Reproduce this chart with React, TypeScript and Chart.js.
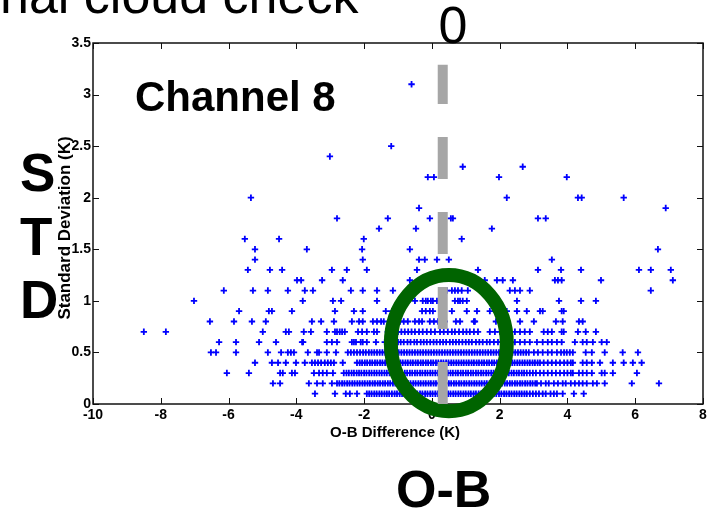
import React, { useEffect, useRef } from "react";
import { Chart, registerables } from "chart.js";

Chart.register(...registerables);

// Standard deviation levels (K) at which the observations are binned
const stdLevels = [0.1, 0.2, 0.3, 0.4, 0.5, 0.6, 0.7, 0.8, 0.9, 1.0, 1.1, 1.2, 1.3, 1.4, 1.5, 1.6, 1.7, 1.8, 1.9, 2.0, 2.2, 2.3, 2.4, 2.5, 3.1];

// O-B differences (K) observed at each standard deviation level
const obAt01 = [-3.45, -2.86, -2.54, -2.42, -2.21,
  -1.92, -1.85, -1.78, -1.7, -1.63, -1.55, -1.48, -1.4, -1.33, -1.26, -1.18, -1.1, -1.03, -0.95, -0.88, -0.81, -0.73, -0.66, -0.58, -0.5, -0.43, -0.35, -0.28, -0.2, -0.13, -0.05, 0.02, 0.1, 0.17, 0.25, 0.32, 0.4, 0.48, 0.55, 0.63, 0.7, 0.78, 0.85, 0.93, 1.0, 1.08, 1.15, 1.23, 1.3, 1.38, 1.45, 1.53, 1.6, 1.68, 1.75, 1.83, 1.9, 1.98, 2.05, 2.13, 2.2, 2.28, 2.35, 2.43, 2.5, 2.58, 2.65, 2.73, 2.8, 2.89,
  2.98, 3.07, 3.16, 3.27, 3.36, 3.5, 3.6, 3.69, 3.86, 4.19, 4.48];
const obAt02 = [-4.69, -4.48, -3.63, -3.39, -3.22, -2.95,
  -2.8, -2.73, -2.65, -2.58, -2.5, -2.43, -2.35, -2.28, -2.2, -2.13, -2.05, -1.98, -1.9, -1.83, -1.75, -1.68, -1.6, -1.53, -1.45, -1.38, -1.3, -1.23, -1.15, -1.08, -1.0, -0.93, -0.85, -0.78, -0.7, -0.63, -0.55, -0.48, -0.4, -0.33, -0.25, -0.18, -0.1, -0.03, 0.05, 0.12, 0.2, 0.27, 0.35, 0.42, 0.5, 0.57, 0.65, 0.72, 0.8, 0.87, 0.95, 1.02, 1.1, 1.17, 1.25, 1.32, 1.4, 1.47, 1.55, 1.62, 1.7, 1.77, 1.85, 1.92, 2.0, 2.07, 2.15, 2.22, 2.3, 2.37, 2.45, 2.52, 2.6, 2.67, 2.75, 2.82, 2.9, 2.97, 3.05, 3.1,
  3.22, 3.36, 3.45, 3.6, 3.72, 3.86, 3.95, 4.1, 4.22, 4.34, 4.45, 4.57, 4.75, 4.87, 5.1, 5.9, 6.7];
const obAt03 = [-6.05, -5.4, -4.48, -4.4, -4.13, -4.04, -3.48, -3.33, -3.22, -3.1, -2.92,
  -2.6, -2.52, -2.45, -2.37, -2.3, -2.22, -2.15, -2.08, -2.0, -1.93, -1.85, -1.78, -1.7, -1.63, -1.55, -1.48, -1.4, -1.33, -1.25, -1.18, -1.1, -1.03, -0.95, -0.88, -0.8, -0.73, -0.65, -0.58, -0.5, -0.43, -0.35, -0.28, -0.2, -0.13, -0.05, 0.02, 0.1, 0.17, 0.25, 0.32, 0.4, 0.47, 0.55, 0.62, 0.7, 0.77, 0.85, 0.92, 1.0, 1.07, 1.15, 1.22, 1.3, 1.37, 1.45, 1.52, 1.6, 1.67, 1.75, 1.82, 1.9, 1.97, 2.05, 2.12, 2.2, 2.27, 2.35, 2.42, 2.5, 2.57, 2.65, 2.72, 2.8, 2.89,
  2.98, 3.07, 3.19, 3.3, 3.42, 3.54, 3.66, 3.78, 3.9, 4.0, 4.1, 4.16, 4.34, 4.45, 4.57, 4.72, 5.01, 5.1, 5.34, 6.05];
const obAt04 = [-5.22, -4.72, -4.54, -4.31, -4.01, -3.75, -3.54, -3.45, -3.36, -3.27, -3.16, -3.07, -2.98, -2.89, -2.63,
  -2.21, -2.13, -2.06, -1.98, -1.91, -1.83, -1.76, -1.68, -1.61, -1.53, -1.46, -1.38, -1.31, -1.23, -1.16, -1.08, -1.01, -0.93, -0.86, -0.78, -0.71, -0.63, -0.56, -0.48, -0.41, -0.33, -0.26, -0.18, -0.11, -0.03, 0.04, 0.12, 0.19, 0.27, 0.34, 0.42, 0.49, 0.57, 0.64, 0.72, 0.79, 0.87, 0.94, 1.02, 1.09, 1.17, 1.24, 1.32, 1.39, 1.47, 1.54, 1.62, 1.69, 1.77, 1.84, 1.92, 1.99, 2.07, 2.14, 2.22, 2.29, 2.37, 2.44, 2.52, 2.59, 2.67, 2.74, 2.82, 2.89, 2.97, 3.04, 3.12, 3.19,
  3.3, 3.42, 3.54, 3.66, 3.78, 3.9, 4.0, 4.1, 4.16, 4.45, 4.57, 4.72, 4.96, 5.34, 5.66, 5.93, 6.19];
const obAt05 = [-6.52, -6.37, -5.78, -4.84, -4.45, -4.25, -4.16, -4.07, -3.66, -3.39, -3.33, -3.1, -2.83,
  -2.48, -2.39, -2.3, -2.21, -2.12, -2.03, -1.95, -1.86, -1.78, -1.7, -1.62, -1.54, -1.46, -1.38, -1.3, -1.22, -1.14, -1.06, -0.98, -0.9, -0.82, -0.74, -0.66, -0.58, -0.5, -0.42, -0.34, -0.26, -0.18, -0.1, -0.02, 0.06, 0.14, 0.22, 0.3, 0.38, 0.46, 0.54, 0.62, 0.7, 0.78, 0.86, 0.94, 1.02, 1.1, 1.18, 1.26, 1.34, 1.42, 1.5, 1.58, 1.66, 1.74, 1.82, 1.9, 1.98, 2.06, 2.14, 2.22, 2.3, 2.38, 2.46, 2.54, 2.62, 2.7, 2.78, 2.86,
  3.01, 3.13, 3.27, 3.42, 3.54, 3.69, 3.81, 3.9, 3.98, 4.07, 4.16, 4.54, 4.72, 5.1, 5.63, 6.08];
const obAt06 = [-6.28, -5.78, -5.1, -4.6, -3.83, -3.8, -3.1, -2.95, -2.8, -2.36, -2.3, -2.24, -2.1, -2.04, -1.92, -1.65,
  -1.39, -1.3, -1.2, -1.11, -1.0, -0.92, -0.83, -0.72, -0.63, -0.52, -0.44, -0.33, -0.24, -0.15, -0.05, 0.05, 0.14, 0.24, 0.33, 0.42, 0.53, 0.62, 0.71, 0.8, 0.9, 1.0, 1.09, 1.18, 1.3, 1.4, 1.5, 1.62, 1.71, 1.83, 1.95, 2.06, 2.18, 2.3, 2.45, 2.6,
  2.74, 2.89, 3.1, 3.27, 3.42, 3.54, 3.69, 3.83, 4.22, 4.45, 4.57, 4.75, 5.01, 5.16];
const obAt07 = [-8.5, -7.85, -4.99, -4.31, -4.22, -3.78, -3.57, -3.1, -2.86, -2.8, -2.72, -2.65, -2.57, -2.18, -2.06, -1.92, -1.71, -1.62, -1.3, -1.24, -1.12, -1.0, -0.9, -0.8, -0.7, -0.6, -0.5, -0.38, -0.27, -0.15, -0.03, 0.09, 0.24, 0.35, 0.47, 0.59, 0.68, 0.8, 0.92, 1.02, 1.12, 1.24, 1.36, 1.71, 1.86, 2.01, 2.45, 2.6, 2.74, 2.89, 3.3, 3.42, 3.54, 3.83, 3.89, 4.31, 4.54, 4.84];
const obAt08 = [-6.55, -5.84, -5.31, -4.9, -3.54, -3.27, -2.89, -2.36, -2.15, -2.04, -1.74, -1.62, -1.5, -1.42, -1.18, -0.94, -0.83, -0.71, -0.5, -0.38, -0.29, -0.06, 0.06, 0.18, 0.29, 0.38, 0.71, 0.83, 1.24, 1.27, 1.89, 2.6, 3.01, 3.66, 3.86, 4.34, 4.45];
const obAt09 = [-5.69, -4.81, -4.72, -4.13, -2.86, -2.3, -2.04, -1.36, -1.18, -0.29, -0.18, -0.06, 0.03, 0.59, 1.03, 1.33, 1.71, 1.92, 2.06, 2.21, 2.51, 2.8, 3.19, 3.27, 3.83, 3.89];
const obAt10 = [-7.02, -3.81, -2.92, -2.68, -1.62, -0.5, -0.27, -0.18, -0.12, -0.03, 0.03, 0.15, 0.68, 0.77, 0.83, 0.91, 1.03, 2.51, 3.75, 4.4, 4.84];
const obAt11 = [-6.14, -5.28, -4.84, -4.25, -3.75, -3.51, -2.39, -2.04, -1.62, -1.15, 0.44, 0.59, 0.68, 0.77, 0.88, 1.06, 2.3, 2.45, 2.6, 2.89, 6.46];
const obAt12 = [-3.98, -3.86, -3.24, -2.63, -0.65, 1.56, 1.92, 2.09, 2.39, 3.63, 3.72, 3.83, 4.99, 7.11];
const obAt13 = [-5.43, -4.78, -4.42, -2.95, -2.51, -1.92, -0.44, 1.36, 3.13, 3.81, 4.4, 6.11, 6.46, 7.05];
const obAt14 = [-5.22, -2.04, -0.38, -0.21, 0.15, 0.5, 3.54];
const obAt15 = [-5.22, -3.69, -2.06, -0.65, 6.67];
const obAt16 = [-5.52, -4.51, -2.01, 0.88];
const obAt17 = [-1.56, -0.47, 1.77];
const obAt18 = [-2.8, -1.3, -0.06, 0.56, 0.62, 3.13, 3.36];
const obAt19 = [-0.38, 6.9];
const obAt20 = [-5.34, 2.21, 4.31, 4.42, 5.66];
const obAt22 = [-0.12, 0.06, 1.98, 3.98];
const obAt23 = [0.91, 2.68];
const obAt24 = [-3.01];
const obAt25 = [-1.2];
const obAt31 = [-0.6];

const obRows = [obAt01, obAt02, obAt03, obAt04, obAt05, obAt06, obAt07, obAt08, obAt09, obAt10, obAt11, obAt12, obAt13,
  obAt14, obAt15, obAt16, obAt17, obAt18, obAt19, obAt20, obAt22, obAt23, obAt24, obAt25, obAt31];

// Axis ranges and tick steps
const xRange = [-10, 8];
const xStep = 2;
const yRange = [0, 3.5];
const yStep = 0.5;

// Dashed reference marker (O-B, from STD to STD) and highlight ring (data units)
const markerOB = 0.32;
const markerSpan = [0, 3.29];
const ringCenter = { x: 0.5, y: 0.59 };
const ringRadius = { x: 1.71, y: 0.66 };

// Text
const slideTitle = "nal cloud check";
const zeroLabel = "0";
const channelLabel = "Channel 8";
const sideLetters = ["S", "T", "D"];
const bottomLabel = "O-B";
const xTitle = "O-B Difference (K)";
const yTitle = "Standard Deviation (K)";

const SANS = "'Liberation Sans', Arial, Helvetica, sans-serif";
const NARROW = "'Liberation Sans Narrow', 'Liberation Sans', Arial, sans-serif";
const TICK_LEN = 6;

const slidePlugin = {
  id: "slideOverlay",
  beforeDatasetsDraw(chart: any) {
    const { ctx, chartArea: a, scales } = chart;
    const xs = scales.x;
    const ys = scales.y;
    ctx.save();
    ctx.strokeStyle = "#111";
    ctx.lineWidth = 1;
    ctx.beginPath();
    for (const t of xs.ticks) {
      const px = Math.round(xs.getPixelForValue(t.value)) + 0.5;
      ctx.moveTo(px, a.bottom);
      ctx.lineTo(px, a.bottom - TICK_LEN);
      ctx.moveTo(px, a.top);
      ctx.lineTo(px, a.top + TICK_LEN);
    }
    for (const t of ys.ticks) {
      const py = Math.round(ys.getPixelForValue(t.value)) + 0.5;
      ctx.moveTo(a.left, py);
      ctx.lineTo(a.left + TICK_LEN, py);
      ctx.moveTo(a.right, py);
      ctx.lineTo(a.right - TICK_LEN, py);
    }
    ctx.stroke();
    ctx.lineWidth = 1.5;
    ctx.strokeRect(a.left, a.top, a.right - a.left, a.bottom - a.top);
    ctx.restore();
  },
  beforeDatasetDraw(chart: any, args: any) {
    if (args.index !== 0) return;
    const { ctx, scales } = chart;
    const xs = scales.x;
    const ys = scales.y;
    const cx = xs.getPixelForValue(ringCenter.x);
    const cy = ys.getPixelForValue(ringCenter.y);
    const rx = Math.abs(xs.getPixelForValue(ringCenter.x + ringRadius.x) - cx);
    const ry = Math.abs(ys.getPixelForValue(ringCenter.y + ringRadius.y) - cy);
    ctx.save();
    ctx.strokeStyle = "#006400";
    ctx.lineWidth = 14;
    ctx.beginPath();
    ctx.ellipse(cx, cy, rx, ry, 0, 0, Math.PI * 2);
    ctx.stroke();
    ctx.restore();
  },
  afterDraw(chart: any) {
    const { ctx } = chart;
    ctx.save();
    ctx.fillStyle = "#000";
    ctx.textBaseline = "alphabetic";

    ctx.textAlign = "left";
    ctx.font = `52px ${SANS}`;
    ctx.fillText(slideTitle, 0, 13);

    ctx.textAlign = "center";
    ctx.fillText(zeroLabel, 453, 43);

    ctx.textAlign = "left";
    ctx.font = `bold 42px ${SANS}`;
    ctx.fillText(channelLabel, 135, 111);

    ctx.font = `bold 53px ${SANS}`;
    const baselines = [191, 255, 318];
    sideLetters.forEach((ch, i) => ctx.fillText(ch, 20, baselines[i]));

    ctx.font = `bold 52px ${SANS}`;
    ctx.fillText(bottomLabel, 396, 507);

    ctx.textAlign = "center";
    ctx.font = `bold 15px ${SANS}`;
    ctx.fillText(xTitle, 395, 437);

    ctx.translate(70, 228);
    ctx.rotate(-Math.PI / 2);
    ctx.font = `bold 17px ${SANS}`;
    ctx.fillText(yTitle, 0, 0);
    ctx.restore();
  },
};

const tickText = (v: number | string) => String(Number(v));

export default function App() {
  const canvasRef = useRef<HTMLCanvasElement | null>(null);

  useEffect(() => {
    document.body.style.margin = "0";
    const canvas = canvasRef.current;
    if (!canvas) return;

    const points = stdLevels.flatMap((s, i) => obRows[i].map((ob) => ({ x: ob, y: s })));

    const chart = new Chart(canvas, {
      type: "scatter",
      data: {
        datasets: [
          {
            type: "line",
            label: "O-B = 0",
            data: [
              { x: markerOB, y: markerSpan[0] },
              { x: markerOB, y: markerSpan[1] },
            ],
            borderColor: "#a6a6a6",
            borderWidth: 10,
            borderDash: [42, 33],
            borderCapStyle: "butt",
            pointRadius: 0,
            fill: false,
          } as any,
          {
            label: "Channel 8",
            data: points,
            pointStyle: "cross",
            pointRadius: 3.2,
            borderWidth: 1.8,
            borderColor: "#0000ff",
            backgroundColor: "#0000ff",
          },
        ],
      },
      options: {
        responsive: false,
        animation: false,
        devicePixelRatio: 1,
        layout: { padding: { left: 0, right: 8, top: 43, bottom: 0 } },
        plugins: {
          legend: { display: false },
          tooltip: { enabled: false },
          title: { display: false },
        },
        scales: {
          x: {
            type: "linear",
            min: xRange[0],
            max: xRange[1],
            grid: { display: false, drawTicks: false },
            border: { display: false },
            ticks: {
              stepSize: xStep,
              autoSkip: false,
              maxRotation: 0,
              padding: 3,
              color: "#000",
              font: { family: NARROW, size: 14, weight: "bold" },
              callback: tickText,
            },
            afterFit: (s: any) => {
              s.height = 106;
            },
          },
          y: {
            type: "linear",
            min: yRange[0],
            max: yRange[1],
            grid: { display: false, drawTicks: false },
            border: { display: false },
            ticks: {
              stepSize: yStep,
              autoSkip: false,
              padding: 2,
              color: "#000",
              font: { family: NARROW, size: 14, weight: "bold" },
              callback: tickText,
            },
            afterFit: (s: any) => {
              s.width = 93;
            },
          },
        },
      },
      plugins: [slidePlugin],
    });

    return () => chart.destroy();
  }, []);

  return (
    <div style={{ width: 711, height: 510, background: "#fff" }}>
      <canvas ref={canvasRef} width={711} height={510} style={{ display: "block" }} />
    </div>
  );
}
